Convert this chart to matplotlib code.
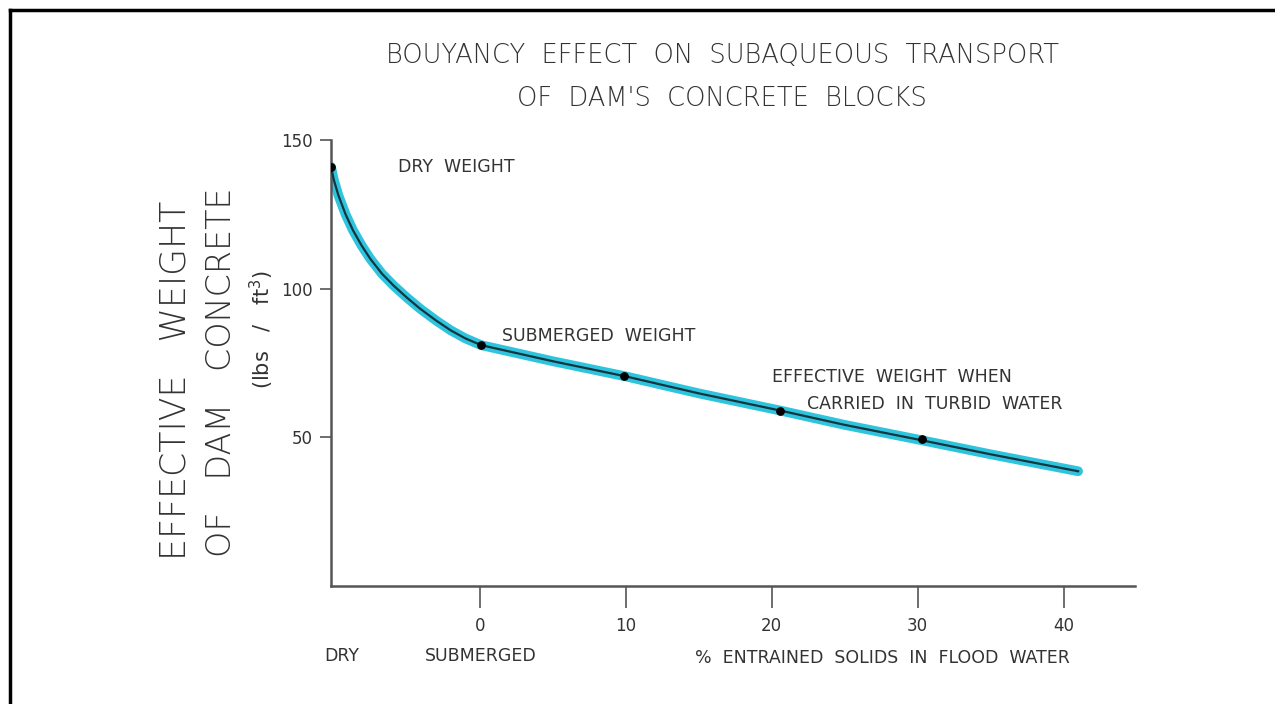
import matplotlib.pyplot as plt
from matplotlib.lines import Line2D

# curve (x: % entrained solids, "dry" sits left of 0)
curve_x = [-10.2, -10.0, -9.7, -9.2, -8.7, -8.1, -7.5, -6.7, -5.9, -5.0, -4.1,
           -3.0, -2.0, -1.0, 0.1, 5.0, 10.0, 15.0, 20.6, 25.0, 30.0, 35.0, 41.0]
curve_y = [141.0, 136.5, 131.5, 125.0, 119.7, 114.5, 110.0, 105.0, 101.0, 97.0, 93.3,
           89.3, 86.0, 83.3, 81.0, 75.6, 70.5, 64.8, 59.0, 54.2, 49.3, 44.3, 38.6]

# marked points
pt_x = [-10.2, 0.1, 9.9, 20.6, 30.3]
pt_y = [141.0, 81.0, 70.5, 59.0, 49.3]

xticks = [0, 10, 20, 30, 40]
yticks = [50, 100, 150]

txt = '#333333'

fig = plt.figure(figsize=(12.75, 7.04), dpi=100)
ax = fig.add_axes([0.2596, 0.1676, 0.6306, 0.6335])

ax.plot(curve_x, curve_y, color='#2ec4de', lw=7, solid_capstyle='round',
        solid_joinstyle='round', zorder=2)
ax.plot(curve_x, curve_y, color='#123540', lw=1.6, solid_joinstyle='round', zorder=3)
ax.scatter(pt_x, pt_y, s=28, color='black', zorder=4)

ax.set_xlim(-10.2, 44.9)
ax.set_ylim(0, 150)
for s in ['top', 'right']:
    ax.spines[s].set_visible(False)
for s in ['left', 'bottom']:
    ax.spines[s].set_color('#555555')
    ax.spines[s].set_linewidth(1.8)

ax.set_xticks(xticks)
ax.set_yticks(yticks)
ax.tick_params(axis='x', direction='out', length=16, width=1.2, color='#555555',
               labelsize=12, labelcolor=txt, pad=6)
ax.tick_params(axis='y', direction='out', length=8, width=1.2, color='#555555',
               labelsize=12, labelcolor=txt, pad=5)

fs = 12.5
# annotations
ax.text(-5.6, 141, 'DRY  WEIGHT', fontsize=fs, color=txt, va='center')
ax.text(1.5, 84, 'SUBMERGED  WEIGHT', fontsize=fs, color=txt, va='center')
ax.text(20.0, 70.2, 'EFFECTIVE  WEIGHT  WHEN', fontsize=fs, color=txt, va='center')
ax.text(22.4, 61.2, 'CARRIED  IN  TURBID  WATER', fontsize=fs, color=txt, va='center')

# below-axis labels
fig.text(342 / 1275, 1 - 656 / 704, 'DRY', fontsize=fs, color=txt, ha='center', va='center')
fig.text(481 / 1275, 1 - 656 / 704, 'SUBMERGED', fontsize=fs, color=txt, ha='center', va='center')
fig.text(882 / 1275, 1 - 658 / 704, '%  ENTRAINED  SOLIDS  IN  FLOOD  WATER', fontsize=fs,
         color=txt, ha='center', va='center')

# title
fig.text(722 / 1275, 1 - 55 / 704, 'BOUYANCY  EFFECT  ON  SUBAQUEOUS  TRANSPORT',
         fontsize=18.5, color=txt, ha='center', va='center', fontweight='light')
fig.text(722 / 1275, 1 - 99 / 704, "OF  DAM'S  CONCRETE  BLOCKS",
         fontsize=18.5, color=txt, ha='center', va='center', fontweight='light')

# y label (three lines)
fig.text(176 / 1275, 1 - 380 / 704, 'EFFECTIVE   WEIGHT', fontsize=25, color=txt,
         rotation=90, ha='center', va='center', fontweight='light')
fig.text(222 / 1275, 1 - 372 / 704, 'OF   DAM   CONCRETE', fontsize=24, color=txt,
         rotation=90, ha='center', va='center', fontweight='light')
fig.text(262 / 1275, 1 - 330 / 704, '(lbs   /   ft$^3$)', fontsize=15, color=txt,
         rotation=90, ha='center', va='center')

# frame lines on left and top
fig.add_artist(Line2D([10 / 1275, 10 / 1275], [0, 1 - 10 / 704], color='black', lw=2.5))
fig.add_artist(Line2D([10 / 1275, 1], [1 - 10 / 704, 1 - 10 / 704], color='black', lw=2.5))

fig.savefig('out.png', dpi=100, facecolor='white')
